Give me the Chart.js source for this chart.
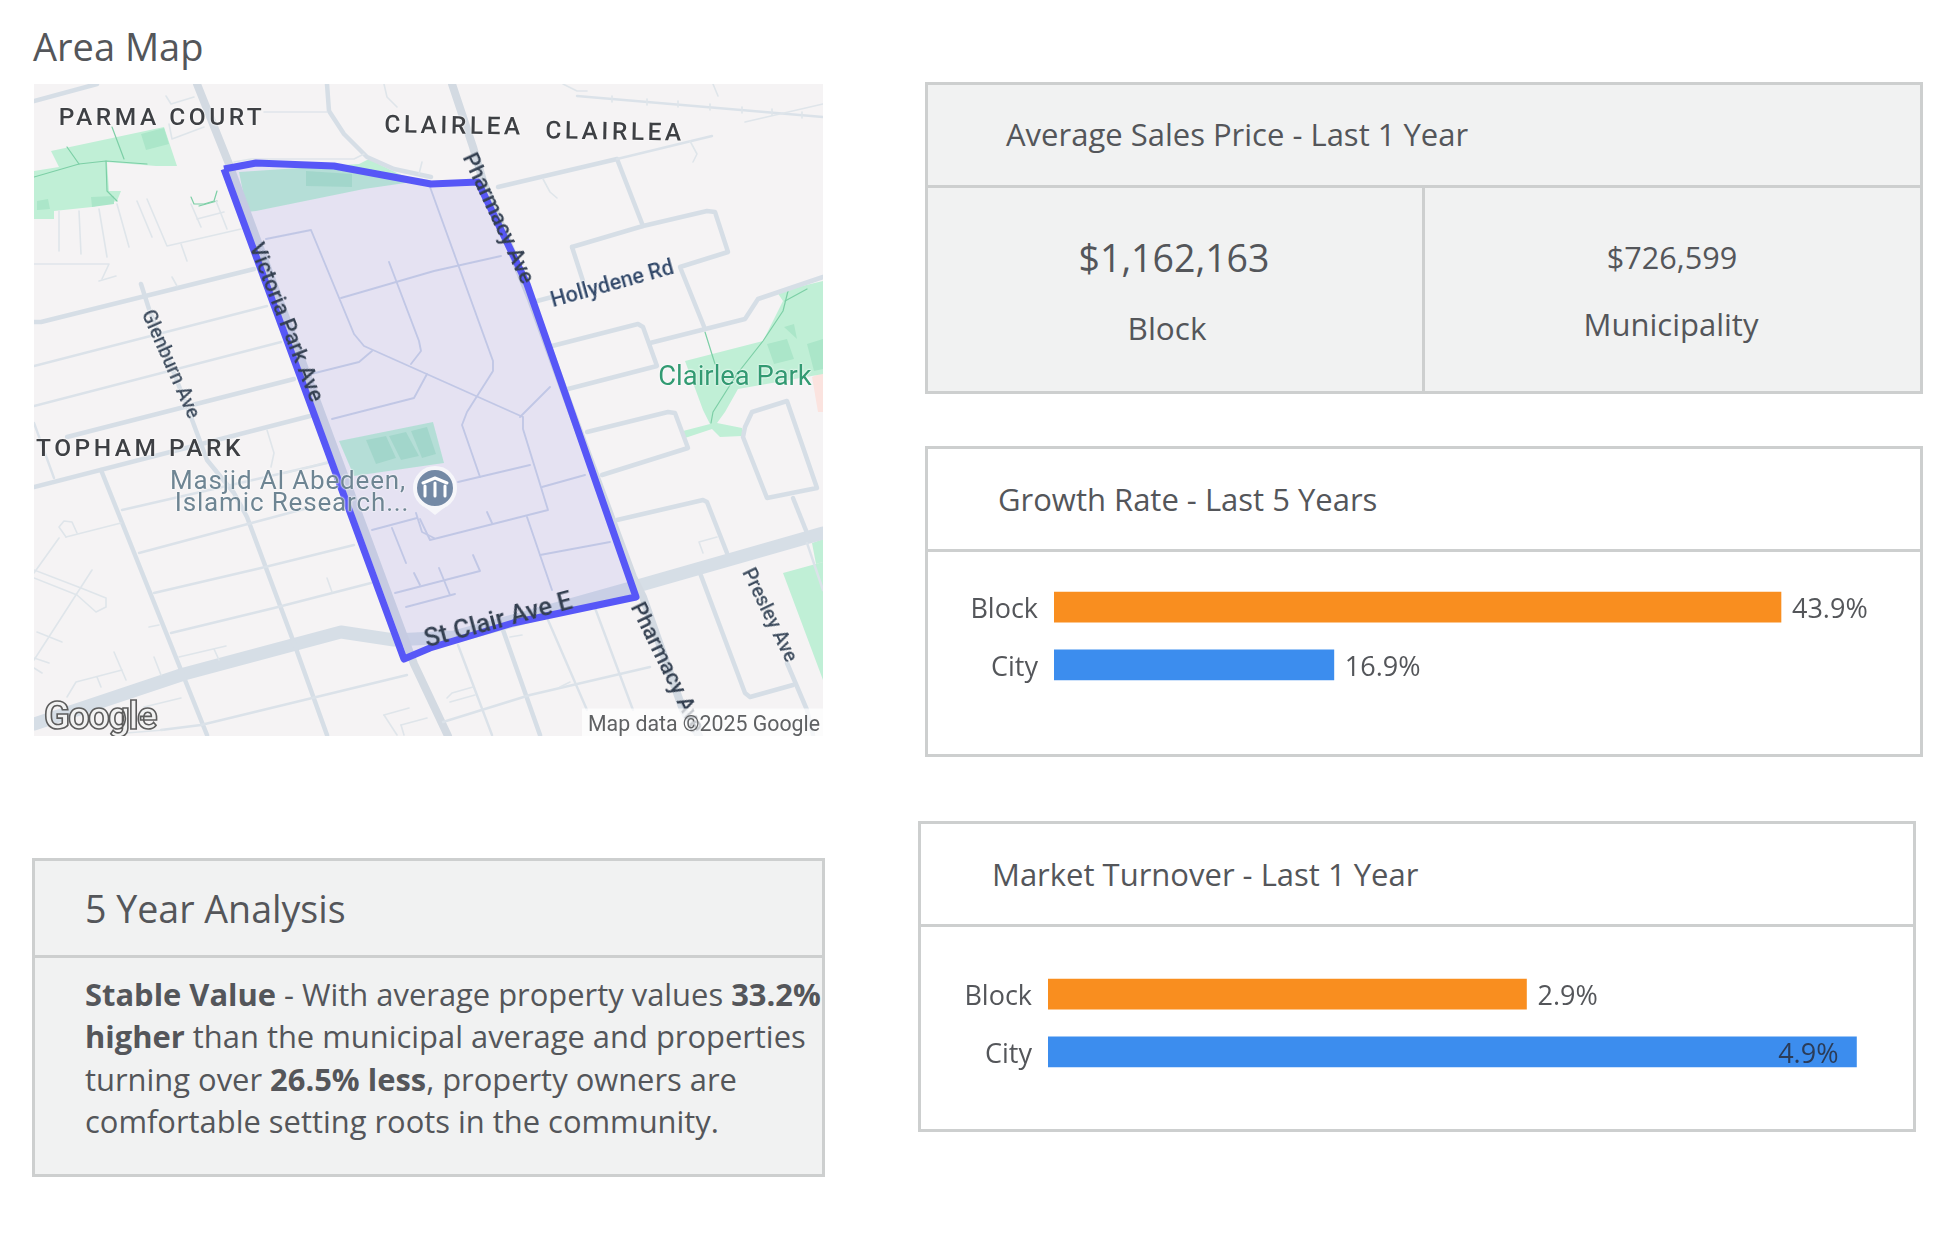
<!DOCTYPE html>
<html>
<head>
<meta charset="utf-8">
<title>Area Map</title>
<script src="https://cdn.jsdelivr.net/npm/chart.js@4/dist/chart.umd.min.js"></script>
<style>
  html, body { margin: 0; background: #fff; }
  body { width: 1954px; height: 1252px; position: relative; overflow: hidden; font-family: "Open Sans", sans-serif; color: #54565a; }
  .abs { position: absolute; white-space: nowrap; }
  .mid { transform: translateY(-50%); }
  .ctr { transform: translate(-50%, -50%); }
  .panel { position: absolute; box-sizing: border-box; border: 3px solid #cdcfcf; }
  .grey { background: #f1f2f2; }
  .rule { position: absolute; background: #cdcfcf; }
  .title { font-size: 31px; }
  canvas { position: absolute; display: block; }
  #map { position: absolute; left: 34px; top: 84px; width: 789px; height: 652px; overflow: hidden; background: #f5f3f4; filter: blur(0.6px); }
  #map span { position: absolute; white-space: nowrap; font-family: Roboto, sans-serif; transform-origin: center; text-shadow: 0 0 2px #fff, 0 0 2px #fff; }
  .area { font-size: 24.5px; font-weight: 500; letter-spacing: 3.5px; color: #3e4044; }
  .street { font-size: 22px; font-weight: 500; color: #333f50; text-shadow: none !important; }
  .clair { font-size: 25.5px; font-weight: 500; color: #333f50; text-shadow: none !important; }
  .small { font-size: 19.5px; font-weight: 500; color: #3c4a5c; }
  .holly { font-size: 21.5px; font-weight: 500; color: #33496a; }
  .park { font-size: 27.4px; color: #329a72; }
  .poi { font-size: 26px; letter-spacing: .85px; color: #6e8593; }
  .logo { font-size: 38px; font-weight: 700; color: #f2f2f2; -webkit-text-stroke: 1.6px #5c5c5c; letter-spacing: -1.5px; text-shadow: none !important; }
  .copy { font-size: 21.3px; color: #5f6163; background: rgba(255,255,255,.72); padding: 2px 4px 2px 6px; text-shadow: none !important; }
</style>
</head>
<body>

<div class="abs mid" style="left:33px;top:46px;font-size:38px">Area Map</div>
<div id="map"><canvas id="mapChart" width="789" height="652"></canvas></div>

<div class="panel grey" style="left:925px;top:82px;width:998px;height:312px"></div>
<div class="rule" style="left:925px;top:185px;width:998px;height:3px"></div>
<div class="rule" style="left:1422px;top:185px;width:3px;height:209px"></div>
<div class="abs mid title" style="left:1006px;top:134px">Average Sales Price - Last 1 Year</div>
<div class="abs ctr" style="left:1174px;top:256.5px;font-size:37.5px">$1,162,163</div>
<div class="abs ctr" style="left:1167px;top:327px;font-size:31.5px">Block</div>
<div class="abs ctr" style="left:1672px;top:256.5px;font-size:30.6px">$726,599</div>
<div class="abs ctr" style="left:1671px;top:323.5px;font-size:31px">Municipality</div>

<div class="panel" style="left:925px;top:446px;width:998px;height:311px"></div>
<div class="rule" style="left:925px;top:548.5px;width:998px;height:3px"></div>
<div class="abs mid title" style="left:998px;top:498.5px">Growth Rate - Last 5 Years</div>
<canvas id="growthChart" width="918" height="150" style="left:964px;top:561px"></canvas>

<div class="panel" style="left:918px;top:821px;width:998px;height:311px"></div>
<div class="rule" style="left:918px;top:923.5px;width:998px;height:3px"></div>
<div class="abs mid title" style="left:992px;top:873.5px">Market Turnover - Last 1 Year</div>
<canvas id="turnoverChart" width="943" height="150" style="left:958px;top:948px"></canvas>

<div class="panel grey" style="left:32px;top:858px;width:793px;height:319px"></div>
<div class="rule" style="left:32px;top:954.5px;width:793px;height:3px"></div>
<div class="abs mid" style="left:85px;top:908px;font-size:37.6px">5 Year Analysis</div>
<div class="abs" style="left:85px;top:972.5px;font-size:30.9px;line-height:42.5px">
  <b>Stable Value</b> - With average property values <b>33.2%</b><br>
  <b>higher</b> than the municipal average and properties<br>
  turning over <b>26.5% less</b>, property owners are<br>
  comfortable setting roots in the community.
</div>

<script>
// Bar chart data
const categories = ['Block', 'City'];
const growthValues = [43.9, 16.9];
const turnoverValues = [2.9, 4.9];
const barColors = ['#f98e1f', '#3c8dee'];

// Map data in map pixels (0-789 across, 0-652 down)
const boundary = [[190,85],[222,79],[300,82],[397,100],[444,98],[493,200],[602,513],[479,539],[396,564],[370,575],[190,85]];

const parks = [
  [[17,67],[130,43],[143,82],[122,82],[73,78],[75,107],[87,107],[83,117],[58,123],[20,127],[20,135],[0,135],[0,87],[25,83],[17,67]],
  [[205,88],[325,80],[335,75],[365,90],[385,97],[330,105],[222,127],[213,128],[205,88]],
  [[305,357],[399,338],[410,379],[320,392],[305,357]],
  [[651,277],[729,257],[749,217],[743,208],[789,197],[789,290],[704,305],[691,328],[683,339],[708,344],[708,352],[686,353],[678,345],[651,354],[649,347],[676,340],[669,326],[651,277]],
  [[749,489],[789,478],[789,596],[749,489]],
  [[778,459],[789,455],[789,478],[782,480],[778,459]]
];
const parkPatches = [
  [[107,50],[130,44],[135,60],[112,66],[107,50]],
  [[57,113],[80,112],[80,120],[58,123],[57,113]],
  [[3,117],[14,115],[16,125],[4,126],[3,117]],
  [[272,87],[318,90],[318,103],[272,102],[272,87]],
  [[332,356],[352,352],[362,374],[342,380],[332,356]],
  [[355,352],[372,348],[385,372],[367,376],[355,352]],
  [[377,347],[393,343],[402,370],[388,374],[377,347]],
  [[733,260],[753,255],[760,275],[740,280],[733,260]],
  [[773,260],[789,255],[789,285],[780,287],[773,260]],
  [[750,243],[760,240],[763,255],[750,243]]
];
const pinkArea = [[778,293],[789,288],[789,328],[784,328],[778,293]];
const parkPaths = [
  [[78,43],[90,75]], [[33,63],[45,80]], [[0,93],[45,80],[72,77],[113,80]],
  [[72,77],[73,107],[83,117]], [[157,113],[160,120],[170,120],[180,117],[183,107]], [[165,122],[183,117]],
  [[671,248],[681,280]], [[754,207],[749,227],[729,257],[703,290],[679,328],[677,339]], [[773,205],[751,217]]
];

const bigRoads = [
  [[0,640],[150,590],[307,548],[360,556],[420,553],[486,535],[600,503],[789,449]]
];
const avenues = [
  [[163,0],[195,80],[380,580],[414,652]],
  [[418,0],[439,63],[449,97],[496,213],[536,323],[599,493],[609,513],[649,626],[665,652]]
];
const collectors = [
  [[0,238],[7,238],[220,185]],
  [[107,200],[115,225],[157,333],[173,376],[200,409],[213,433],[260,559],[293,651]],
  [[0,403],[280,331]],
  [[33,353],[260,295]],
  [[67,386],[147,586],[173,651]],
  [[293,0],[295,27],[310,50],[333,73],[360,85],[397,93]],
  [[0,17],[63,0]],
  [[464,103],[583,75]],
  [[583,75],[609,142]],
  [[538,163],[609,142],[673,127],[681,128],[694,168],[646,183],[671,245]],
  [[538,163],[549,197]],
  [[503,217],[518,213]],
  [[518,262],[604,240],[609,243],[623,282],[534,305]],
  [[616,259],[711,235],[724,215],[789,193]],
  [[718,328],[753,317],[783,404],[733,414],[709,353],[711,343],[718,328]],
  [[759,414],[773,449]],
  [[553,348],[634,328],[641,329],[654,364],[568,391]],
  [[583,436],[669,416],[673,418],[693,469]],
  [[666,489],[711,609],[716,613],[759,601]],
  [[753,579],[773,626],[779,651]],
  [[469,546],[506,651]]
];
const sideRoads = [
  [[0,282],[233,222]], [[0,322],[247,258]], [[88,426],[293,379]],
  [[105,469],[270,425]], [[120,509],[227,484],[320,461]], [[137,549],[240,524],[337,499]],
  [[127,646],[167,641],[373,591]], [[0,339],[20,394]],
  [[409,638],[496,611],[616,583]], [[561,524],[599,626]], [[514,536],[553,626]], [[424,561],[458,651]],
  [[583,75],[678,52]], [[543,12],[789,33]], [[773,459],[789,506]]
];
const lanes = [
  [[230,28],[293,28]], [[350,0],[353,13],[363,23]], [[200,78],[217,75],[320,75],[330,70]], [[388,78],[385,90]],
  [[132,12],[137,20],[160,13]], [[135,40],[138,55],[170,43]],
  [[25,127],[25,167]], [[45,127],[47,170]], [[65,125],[73,173]], [[83,120],[95,163]], [[103,117],[118,153]],
  [[113,115],[133,162],[207,145]], [[0,180],[75,180],[68,195]], [[65,197],[82,192]],
  [[147,160],[153,177]], [[157,120],[167,143]], [[182,117],[193,145]], [[163,135],[190,128]], [[138,193],[143,202]],
  [[32,453],[87,439]], [[32,453],[25,443],[30,437],[38,438],[43,449]], [[25,454],[0,489]],
  [[0,494],[43,511],[62,528],[72,523],[72,514],[47,504],[0,486]], [[58,486],[0,576]], [[3,548],[28,558]],
  [[0,574],[15,579]], [[0,584],[8,589]], [[80,568],[92,596]], [[120,573],[127,591]], [[33,613],[42,598],[88,586]],
  [[63,593],[67,603]], [[145,573],[192,562]], [[180,565],[185,576]], [[110,623],[147,614]], [[115,543],[125,541]],
  [[293,494],[298,508]], [[252,389],[293,378]], [[233,346],[240,369],[237,383]], [[92,649],[130,646]],
  [[350,631],[375,624]], [[350,631],[363,651]], [[367,641],[393,634]], [[367,641],[370,651]],
  [[509,95],[516,108],[523,114]], [[656,57],[663,70],[659,78]], [[711,38],[789,20]], [[529,0],[543,7],[553,7]], [[679,0],[684,12]],
  [[669,469],[665,458],[683,453]], [[413,614],[418,609],[439,603]], [[416,618],[441,611]], [[526,603],[536,598]], [[476,553],[488,551]],
  [[578,12],[578,18]], [[613,15],[613,21]], [[644,17],[644,23]], [[676,20],[676,26]], [[708,23],[708,29]], [[738,25],[738,31]], [[768,28],[768,34]]
];
const innerRoads = [
  [[232,155],[277,146],[320,250],[330,262],[489,333],[489,345],[514,426],[396,456],[386,435]],
  [[355,178],[385,257],[387,267],[377,280]],
  [[307,214],[400,187],[467,172]],
  [[396,103],[459,277],[459,287],[433,328],[428,341],[446,393]],
  [[338,267],[325,278],[277,290]],
  [[393,290],[380,314],[298,335]],
  [[424,398],[496,381]], [[508,403],[551,391]], [[486,333],[516,303]],
  [[453,428],[458,439]], [[493,433],[518,506]], [[506,471],[576,458]],
  [[361,509],[446,487],[439,471]], [[405,484],[416,511]], [[380,489],[386,501]], [[372,523],[421,510]],
  [[338,446],[383,434]], [[358,444],[372,479]], [[382,429],[388,448],[400,454]]
];

// Masjid marker
const poiPin = [[387,420],[401,431],[415,420],[387,420]];
const poiCentre = [[401,404]];
const poiGlyph = [[[391,412],[391,402]], [[401,412],[401,399]], [[411,412],[411,402]], [[389,399],[401,394],[413,399]]];

// Text on the map, placed in the same map pixels
const mapLabels = [
  ['PARMA COURT', 128, 32, 0, 'area'], ['CLAIRLEA', 420, 41, 1, 'area'], ['CLAIRLEA', 581, 47, 1, 'area'], ['TOPHAM PARK', 106, 363, 0, 'area'],
  ['Victoria Park Ave', 253, 238, 68.5, 'street'], ['Pharmacy Ave', 465, 134, 65, 'street'], ['Pharmacy Ave', 634, 583, 64, 'street'],
  ['St Clair Ave E', 464, 535, -15, 'clair'], ['Glenburn Ave', 137, 280, 66, 'small'], ['Presley Ave', 736, 531, 64, 'small'],
  ['Hollydene Rd', 578, 199, -15.5, 'holly'], ['Clairlea Park', 701, 292, 0, 'park'],
  ['Masjid Al Abedeen,', 254, 396, 0, 'poi'], ['Islamic Research...', 258, 418, 0, 'poi'],
  ['Google', 66, 632, 0, 'logo'], ['Map data ©2025 Google', 669, 639, 0, 'copy']
];

function asPoints(line) {
  return line.map(p => ({ x: p[0], y: p[1] }));
}
function stroke(lines, color, width) {
  return lines.map(line => ({ data: asPoints(line), showLine: true, borderColor: color, borderWidth: width, pointRadius: 0, fill: false, borderJoinStyle: 'round', borderCapStyle: 'round' }));
}
function area(shapes, color) {
  return shapes.map(shape => ({ data: asPoints(shape), showLine: true, borderWidth: 0, borderColor: color, backgroundColor: color, pointRadius: 0, fill: 'shape' }));
}

// first dataset ends up on top
const mapChart = new Chart(document.getElementById('mapChart'), {
  type: 'scatter',
  data: {
    datasets: [
      ...stroke(poiGlyph, '#ffffff', 3),
      { data: asPoints(poiCentre), pointRadius: 20, pointBackgroundColor: '#7389a5', pointBorderColor: '#f6f6fa', pointBorderWidth: 4 },
      ...area([poiPin], '#f6f6fa'),
      { data: asPoints(boundary), showLine: true, borderColor: '#5757f7', borderWidth: 7, borderJoinStyle: 'round', backgroundColor: 'rgba(90,80,225,0.1)', pointRadius: 0, fill: 'shape' },
      ...stroke(innerRoads, '#cdd5e6', 1.9),
      ...stroke(lanes, '#dfe5ea', 1.6),
      ...stroke(sideRoads, '#dbe2e9', 2.4),
      ...stroke(collectors, '#d6dee6', 4.5),
      ...stroke(avenues, '#d3dae2', 8),
      ...stroke(bigRoads, '#d6dee6', 13),
      ...stroke(parkPaths, '#7ccfa6', 1.2),
      ...area(parkPatches, '#abe6c9'),
      ...area(parks, '#c0efd6'),
      ...area([pinkArea], '#fbe3df')
    ]
  },
  options: {
    responsive: false,
    animation: false,
    layout: { padding: 0, autoPadding: false },
    plugins: { legend: { display: false }, tooltip: { enabled: false } },
    scales: {
      x: { type: 'linear', display: false, min: 0, max: 789 },
      y: { type: 'linear', display: false, min: 0, max: 652, reverse: true }
    }
  }
});

const mapBox = document.getElementById('map');
mapLabels.forEach(([text, x, y, angle, kind]) => {
  const el = document.createElement('span');
  el.className = kind;
  el.textContent = text;
  el.style.left = mapChart.scales.x.getPixelForValue(x) + 'px';
  el.style.top = mapChart.scales.y.getPixelForValue(y) + 'px';
  el.style.transform = 'translate(-50%,-50%) rotate(' + angle + 'deg)';
  mapBox.appendChild(el);
});

// Value at the bar end, or inside the bar when it would run out of the chart
const barValueLabels = {
  id: 'barValueLabels',
  afterDatasetsDraw(chart) {
    const ctx = chart.ctx;
    const values = chart.data.datasets[0].data;
    ctx.save();
    ctx.font = '27px "Open Sans"';
    ctx.textBaseline = 'middle';
    chart.getDatasetMeta(0).data.forEach((bar, i) => {
      const text = values[i].toFixed(1) + '%';
      const fits = bar.x + 11 + ctx.measureText(text).width < chart.chartArea.right;
      ctx.fillStyle = fits ? '#54565a' : '#2b3c58';
      ctx.textAlign = fits ? 'left' : 'right';
      ctx.fillText(text, fits ? bar.x + 11 : bar.x - 18, bar.y + 3);
    });
    ctx.restore();
  }
};

function barChart(id, values, xMax) {
  return new Chart(document.getElementById(id), {
    type: 'bar',
    data: { labels: categories, datasets: [{ data: values, backgroundColor: barColors, barThickness: 30 }] },
    options: {
      indexAxis: 'y',
      responsive: false,
      animation: false,
      layout: { padding: 0, autoPadding: false },
      plugins: { legend: { display: false }, tooltip: { enabled: false } },
      scales: {
        x: { display: false, min: 0, max: xMax },
        y: {
          afterFit(axis) { axis.width = 90; },
          border: { display: false },
          grid: { display: false, drawTicks: false },
          // tiny lineHeight so the tick labels don't eat into the chart area
          ticks: { color: '#54565a', font: { family: '"Open Sans"', size: 27, lineHeight: 0.1 }, padding: 16, labelOffset: 3 }
        }
      }
    },
    plugins: [barValueLabels]
  });
}

barChart('growthChart', growthValues, 50);
barChart('turnoverChart', turnoverValues, 5.17);
</script>
</body>
</html>
